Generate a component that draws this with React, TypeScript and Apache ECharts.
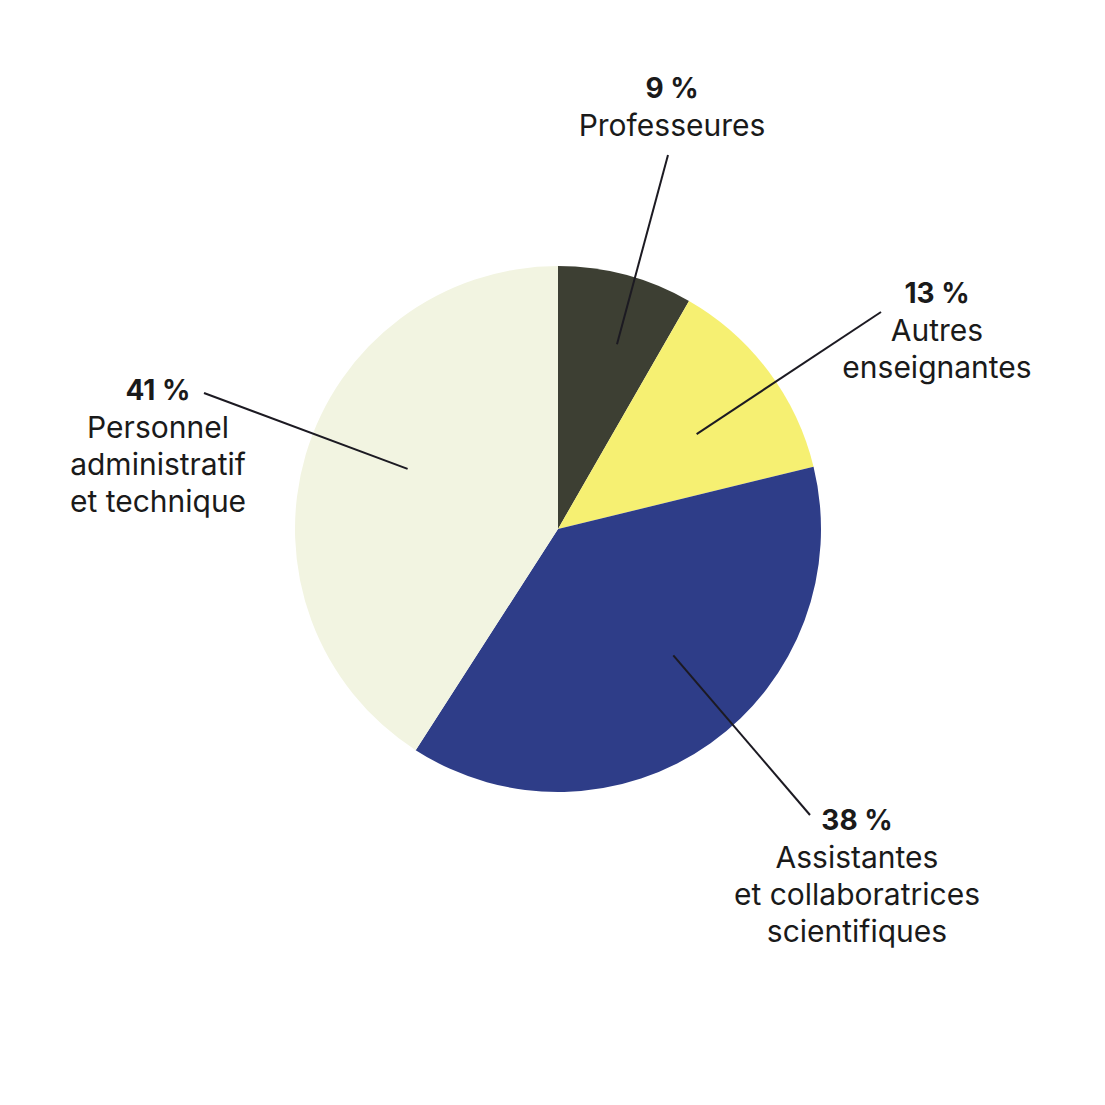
import React, { useEffect, useRef } from "react";
import * as echarts from "echarts";

// Data
const categories = [
  "Professeures",
  "Autres\nenseignantes",
  "Assistantes\net collaboratrices\nscientifiques",
  "Personnel\nadministratif\net technique",
];
const values = [8.3, 12.9, 37.9, 40.9];
const pctLabels = ["9 %", "13 %", "38 %", "41 %"];
const colors = ["#3d3f33", "#f6f072", "#2e3d88", "#f2f4e1"];

// Layout (pixels in a 1105x1105 canvas)
const CX = 558;
const CY = 529;
const R = 263;
// label block centre
const labelPos = [
  [672, 106],
  [937, 330],
  [857, 875],
  [158, 445],
];
// leader line: start in polar (deg clockwise from top, px from centre), end in px
const lineStartPolar = [
  [17.7, 194],
  [55.6, 168],
  [137.6, 171],
  [291.8, 162],
];
const lineEnd = [
  [668, 155],
  [881, 312],
  [810, 815],
  [204, 393],
];

export default function App() {
  const ref = useRef<HTMLDivElement>(null);
  useEffect(() => {
    document.body.style.margin = "0";
    const chart = echarts.init(ref.current!, null, { renderer: "svg" });
    const font = "Inter, 'Noto Sans', sans-serif";
    const lines = lineStartPolar.map((p, i) => {
      const a = (p[0] * Math.PI) / 180;
      const x1 = CX + p[1] * Math.sin(a);
      const y1 = CY - p[1] * Math.cos(a);
      return {
        type: "line",
        z: 100,
        shape: { x1, y1, x2: lineEnd[i][0], y2: lineEnd[i][1] },
        style: { stroke: "#1c1a22", lineWidth: 2 },
        silent: true,
      };
    });
    chart.setOption({
      animation: false,
      backgroundColor: "#ffffff",
      graphic: lines,
      series: [
        {
          type: "pie",
          center: [CX, CY],
          radius: [0, R],
          startAngle: 90,
          clockwise: true,
          avoidLabelOverlap: false,
          itemStyle: { borderWidth: 0 },
          emphasis: { disabled: true },
          labelLine: { show: false },
          label: {
            show: true,
            position: "outside",
            color: "#1a1a1a",
            fontFamily: font,
            align: "center",
            formatter: (p: any) =>
              `{p|${pctLabels[p.dataIndex]}}\n{n|${categories[p.dataIndex]}}`,
            rich: {
              p: {
                fontFamily: font,
                fontWeight: 700,
                fontSize: 28,
                lineHeight: 37,
                color: "#1a1a1a",
                align: "center",
              },
              n: {
                fontFamily: font,
                fontWeight: 400,
                fontSize: 30,
                lineHeight: 37,
                color: "#1a1a1a",
                align: "center",
              },
            },
          },
          labelLayout: (params: any) => ({
            x: labelPos[params.dataIndex][0],
            y: labelPos[params.dataIndex][1],
            align: "center",
            verticalAlign: "middle",
          }),
          data: categories.map((c, i) => ({
            name: c,
            value: values[i],
            itemStyle: { color: colors[i] },
          })),
        },
      ],
    });
    return () => chart.dispose();
  }, []);
  return <div ref={ref} style={{ width: 1105, height: 1105 }} />;
}
